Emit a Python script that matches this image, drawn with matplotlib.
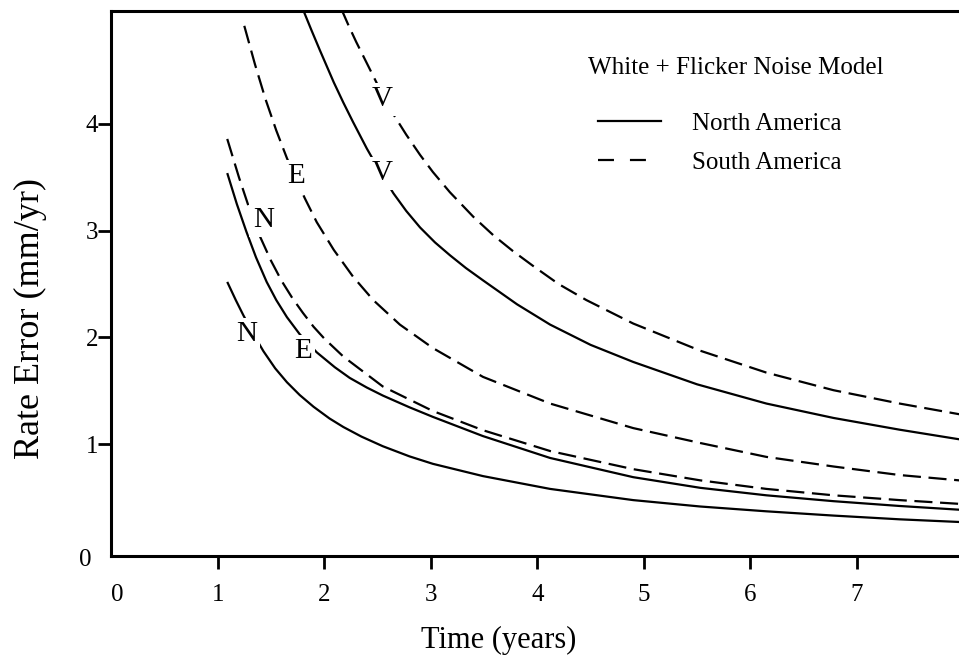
import matplotlib
matplotlib.use("Agg")
import matplotlib.pyplot as plt
from matplotlib.lines import Line2D
from matplotlib import transforms

plt.rcParams["font.family"] = ["Liberation Serif", "DejaVu Serif"]
plt.rcParams["lines.scale_dashes"] = False

# values (time in years, rate error in mm/yr)
na_n_t = [1.09, 1.17, 1.24, 1.33, 1.43, 1.54, 1.65, 1.77, 1.90, 2.05, 2.18, 2.35, 2.55, 2.80,
          3.02, 3.49, 4.12, 4.90, 5.53, 6.15, 6.78, 7.40, 7.96]
na_n_y = [2.52, 2.35, 2.21, 2.04, 1.87, 1.71, 1.58, 1.46, 1.35, 1.24, 1.16, 1.07, 0.98, 0.885,
          0.815, 0.70, 0.58, 0.475, 0.415, 0.37, 0.33, 0.295, 0.27]

na_e_t = [1.09, 1.18, 1.27, 1.36, 1.46, 1.55, 1.65, 1.77, 1.93, 2.10, 2.24, 2.40, 2.55, 2.80,
          3.02, 3.49, 4.12, 4.90, 5.53, 6.15, 6.78, 7.40, 7.96]
na_e_y = [3.54, 3.25, 2.99, 2.75, 2.52, 2.35, 2.19, 2.03, 1.86, 1.72, 1.62, 1.53, 1.455, 1.345,
          1.255, 1.075, 0.87, 0.69, 0.59, 0.52, 0.465, 0.42, 0.385]

na_v_t = [1.79, 1.88, 1.96, 2.09, 2.18, 2.27, 2.40, 2.52, 2.65, 2.77, 2.90, 3.04, 3.18, 3.33,
          3.49, 3.81, 4.12, 4.50, 4.90, 5.50, 6.15, 6.78, 7.40, 7.96]
na_v_y = [5.10, 4.88, 4.69, 4.39, 4.20, 4.02, 3.77, 3.56, 3.35, 3.185, 3.03, 2.89, 2.77, 2.65,
          2.535, 2.31, 2.12, 1.93, 1.77, 1.56, 1.38, 1.245, 1.135, 1.045]

sa_n_t = [1.09, 1.20, 1.30, 1.40, 1.50, 1.60, 1.70, 1.80, 1.90, 2.00, 2.18, 2.55, 3.02, 3.49,
          4.12, 4.90, 5.53, 6.15, 6.78, 7.40, 7.96]
sa_n_y = [3.86, 3.50, 3.20, 2.94, 2.72, 2.53, 2.37, 2.23, 2.10, 1.99, 1.82, 1.54, 1.31, 1.13,
          0.935, 0.765, 0.66, 0.58, 0.52, 0.475, 0.44]

sa_e_t = [1.25, 1.35, 1.45, 1.55, 1.65, 1.75, 1.82, 1.93, 2.09, 2.27, 2.46, 2.71, 3.02, 3.49,
          4.12, 4.90, 5.53, 6.15, 6.78, 7.40, 7.96]
sa_e_y = [4.92, 4.56, 4.23, 3.94, 3.68, 3.45, 3.30, 3.08, 2.82, 2.57, 2.35, 2.12, 1.90, 1.63,
          1.38, 1.15, 1.01, 0.88, 0.79, 0.71, 0.66]

sa_v_t = [2.16, 2.23, 2.30, 2.37, 2.45, 2.55, 2.65, 2.77, 2.90, 3.02, 3.18, 3.40, 3.59, 3.77,
          3.96, 4.20, 4.46, 4.90, 5.53, 6.15, 6.78, 7.40, 7.96]
sa_v_y = [5.08, 4.92, 4.77, 4.63, 4.47, 4.27, 4.09, 3.90, 3.71, 3.55, 3.36, 3.13, 2.955, 2.81,
          2.67, 2.50, 2.35, 2.13, 1.875, 1.67, 1.505, 1.38, 1.28]

# curve labels: (text, time, rate)
curve_labels = [("N", 1.27, 2.03), ("E", 1.80, 1.87), ("V", 2.54, 3.54),
                ("N", 1.43, 3.10), ("E", 1.735, 3.51), ("V", 2.54, 4.23)]

x_ticks = [0, 1, 2, 3, 4, 5, 6, 7]
y_ticks = [0, 1, 2, 3, 4]

W, H = 959, 659
fig = plt.figure(figsize=(W / 100, H / 100), dpi=100)
# axes: x=0 at px 111, 106.55 px/yr; y spine at px 555.7, top at px 11
ax = fig.add_axes([111.1 / W, (H - 555.7) / H, 852.4 / W, 544.7 / H])
ax.set_xlim(0, 8)
ax.set_ylim(-0.046, 5.059)

lw = 1.6
dash = (13, 5.5)
for t, y in [(na_n_t, na_n_y), (na_e_t, na_e_y), (na_v_t, na_v_y)]:
    ax.plot(t, y, color="black", lw=lw, solid_capstyle="butt", solid_joinstyle="round")
for t, y in [(sa_n_t, sa_n_y), (sa_e_t, sa_e_y), (sa_v_t, sa_v_y)]:
    ax.plot(t, y, color="black", lw=lw, linestyle=(0, dash), dash_capstyle="butt",
            dash_joinstyle="round")

for s, t, y in curve_labels:
    ax.text(t, y, s, fontsize=21, ha="center", va="center", zorder=5,
            bbox=dict(boxstyle="square,pad=0.12", fc="white", ec="none"))

# legend
handles = [Line2D([], [], color="black", lw=lw),
           Line2D([], [], color="black", lw=lw, linestyle=(0, (11.5, 11.5)))]
leg = ax.legend(handles, ["North America", "South America"], frameon=False,
                fontsize=18, loc="upper left", bbox_to_anchor=(598 / W, 1 - 112 / H),
                bbox_transform=fig.transFigure, borderpad=0, borderaxespad=0,
                handlelength=2.5, handletextpad=1.25, labelspacing=0.67)
ax.text(736 / W, 1 - 68 / H, "White + Flicker Noise Model", transform=fig.transFigure,
        fontsize=18, ha="center", va="center")

ax.spines["right"].set_visible(False)
for side in ["left", "bottom", "top"]:
    ax.spines[side].set_linewidth(2.2)

ax.set_xticks(x_ticks)
ax.set_yticks(y_ticks)
ax.set_xticklabels([str(v) for v in x_ticks])
ax.set_yticklabels([str(v) for v in y_ticks])
ax.tick_params(axis="both", direction="out", length=9.5, width=2.0, labelsize=18)
ax.tick_params(axis="x", pad=11)
ax.tick_params(axis="y", pad=0)
ax.xaxis.get_major_ticks()[0].tick1line.set_visible(False)
ax.yaxis.get_major_ticks()[0].tick1line.set_visible(False)
# the zero labels sit slightly off in the original
lab0x = ax.get_xticklabels()[0]
lab0x.set_transform(lab0x.get_transform() + transforms.ScaledTranslation(6 / 100, 0, fig.dpi_scale_trans))
lab0y = ax.get_yticklabels()[0]
lab0y.set_transform(lab0y.get_transform() + transforms.ScaledTranslation(-6 / 100, -7 / 100, fig.dpi_scale_trans))

ax.set_xlabel("Time (years)", fontsize=22)
ax.set_ylabel("Rate Error (mm/yr)", fontsize=26)
ax.xaxis.set_label_coords((499 - 111.1) / 852.4, (555.7 - 640) / 544.7)
ax.xaxis.label.set_va("center")
ax.yaxis.set_label_coords((30 - 111.1) / 852.4, (555.7 - 318) / 544.7)
ax.yaxis.label.set_va("center")

fig.savefig("out.png", dpi=100)
